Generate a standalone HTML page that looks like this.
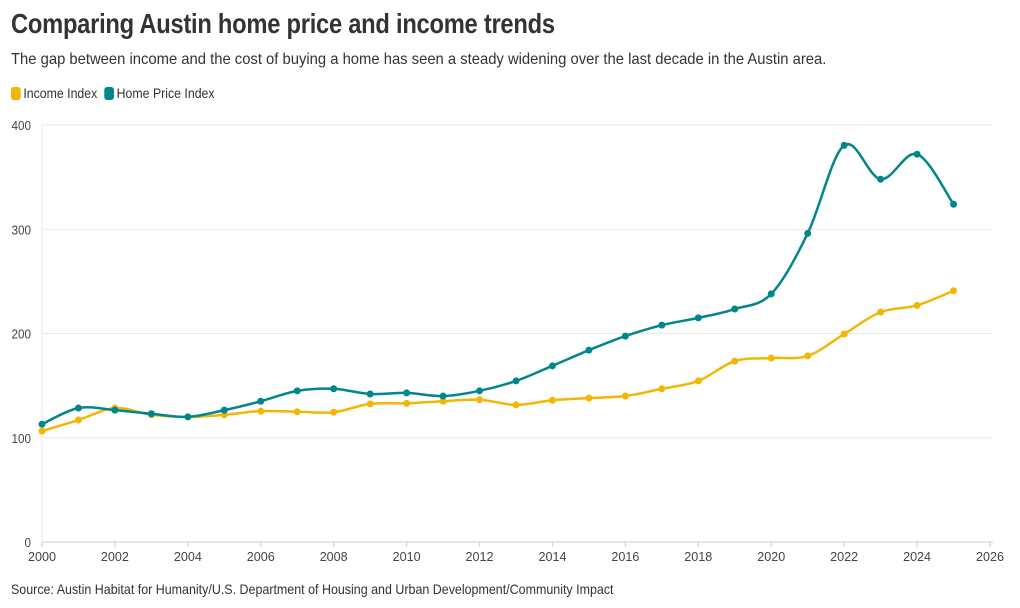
<!DOCTYPE html>
<html><head><meta charset="utf-8">
<style>
body{margin:0;background:#fff;font-family:"Liberation Sans Narrow","Liberation Sans",sans-serif;color:#333;}
#wrap{position:relative;width:1020px;height:608px;overflow:hidden;}
h1{position:absolute;left:11px;top:8px;margin:0;font-size:28px;font-weight:bold;color:#333;letter-spacing:-0.3px;transform:scaleX(0.847);transform-origin:0 0;white-space:nowrap}
.sub{position:absolute;left:11px;top:51px;font-size:16px;color:#333;transform:scaleX(0.925);transform-origin:0 0;white-space:nowrap}
.legend{position:absolute;left:11px;top:85px;font-size:14px;display:flex;gap:8px;align-items:center;transform:scaleX(0.88);transform-origin:0 0;white-space:nowrap}
.legend span.sw{display:inline-block;width:11px;height:13px;border-radius:3px;margin-right:3px;vertical-align:-2px}
.src{position:absolute;left:11px;top:581px;font-size:14px;color:#333;transform:scaleX(0.89);transform-origin:0 0;white-space:nowrap}
svg{position:absolute;left:0;top:0}
</style></head><body>
<div id="wrap">
<h1>Comparing Austin home price and income trends</h1>
<div class="sub">The gap between income and the cost of buying a home has seen a steady widening over the last decade in the Austin area.</div>
<div class="legend">
<span><span class="sw" style="background:#f2b705"></span>Income Index</span>
<span><span class="sw" style="background:#00868b"></span>Home Price Index</span>
</div>
<svg id="chart" width="1020" height="608"></svg>
<div class="src">Source: Austin Habitat for Humanity/U.S. Department of Housing and Urban Development/Community Impact</div>
</div>
<script>
const years=[2000,2001,2002,2003,2004,2005,2006,2007,2008,2009,2010,2011,2012,2013,2014,2015,2016,2017,2018,2019,2020,2021,2022,2023,2024,2025];
const homePrice=[113,128.5,126.5,123,120,126.5,135,145,147,142,143,140,145,154.5,169,184,197.5,208,215,223.5,238,296,380.5,348,372,324];
const income=[106.5,117,128.5,122,120,122,125.5,125,124.5,132.5,133,135,136.5,131.5,136,138,140,147,154.5,173.5,176.5,178.5,199.5,220.5,227,241];
const xTicks=[2000,2002,2004,2006,2008,2010,2012,2014,2016,2018,2020,2022,2024,2026];
const yTicks=[0,100,200,300,400];
const NS="http://www.w3.org/2000/svg";
const svg=document.getElementById('chart');
const X=v=>42+(v-2000)*(990-42)/26;
const Y=v=>542-v*(542-125)/400;
function el(t,a){const e=document.createElementNS(NS,t);for(const k in a)e.setAttribute(k,a[k]);svg.appendChild(e);return e;}
yTicks.forEach(t=>{
 const g=el('line',{x1:42,x2:993,y1:Y(t),y2:Y(t),stroke:t===0?'#ccc':'#eaeaea','stroke-width':1});
 
 
 const tx=el('text',{x:31,y:Y(t)+5,'text-anchor':'end','font-size':13,fill:'#444','font-family':'Liberation Sans Narrow, Liberation Sans, sans-serif',textLength:String(t).length*6.5,lengthAdjust:'spacingAndGlyphs'});
 tx.textContent=t;
 
 
});
const yl=el('line',{x1:42,x2:42,y1:125,y2:542,stroke:'#eaeaea'});


xTicks.forEach(t=>{
 const tk=el('line',{x1:X(t),x2:X(t),y1:542,y2:547,stroke:'#ccc'});
 
 
 const tx=el('text',{x:X(t),y:561,'text-anchor':'middle','font-size':13,fill:'#444','font-family':'Liberation Sans Narrow, Liberation Sans, sans-serif',textLength:28,lengthAdjust:'spacingAndGlyphs'});
 tx.textContent=t;
 
 
});
function path(vals){
 const p=vals.map((v,i)=>[X(years[i]),Y(v)]);
 let d='M'+p[0][0]+','+p[0][1];
 for(let i=0;i<p.length-1;i++){
  const p0=p[i-1]||p[i],p1=p[i],p2=p[i+1],p3=p[i+2]||p2;
  const c1=[p1[0]+(p2[0]-p0[0])/6,p1[1]+(p2[1]-p0[1])/6];
  const c2=[p2[0]-(p3[0]-p1[0])/6,p2[1]-(p3[1]-p1[1])/6];
  d+=' C'+c1+' '+c2+' '+p2;
 }
 return d;
}
function series(vals,color,name){
 const pa=el('path',{d:path(vals),fill:'none',stroke:color,'stroke-width':2.5});
 
 
 vals.forEach((v,i)=>{
  const c=el('circle',{cx:X(years[i]),cy:Y(v),r:3.5,fill:color});
  
  
 });
}
series(income,'#f2b705','income');
series(homePrice,'#00868b','home-price');
</script>
</body></html>
